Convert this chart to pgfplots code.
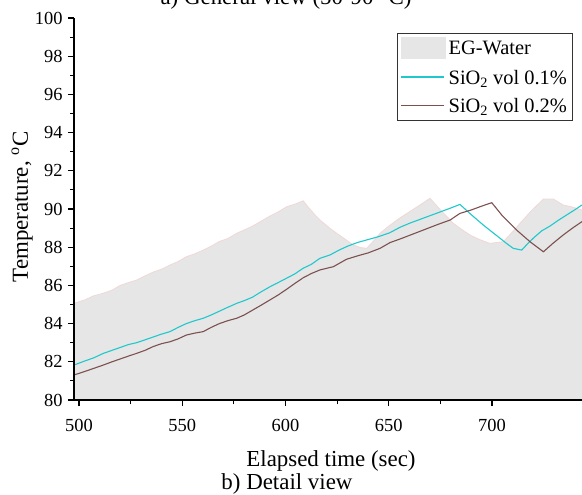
\documentclass[border=0pt]{standalone}
\usepackage{pgfplots}
\pgfplotsset{compat=1.18}
\usepackage{pgfplotstable}
\usepackage{fontspec}
\setmainfont{Liberation Serif}
\definecolor{egfill}{RGB}{230,230,230}
\definecolor{egedge}{RGB}{242,215,215}
\definecolor{cyanline}{RGB}{32,200,205}
\definecolor{brownline}{RGB}{125,80,80}
\newcommand{\labfont}{\fontsize{23}{27}\selectfont}
\newcommand{\tickfont}{\fontsize{18.5}{22}\selectfont}
\newcommand{\legfont}{\fontsize{20.5}{24}\selectfont}
\pgfplotsset{
  cyanleg/.style={legend image code/.code={\draw[cyanline, line width=1.6bp] (0bp,1bp) -- (43bp,1bp);}},
  brownleg/.style={legend image code/.code={\draw[brownline, line width=1.5bp] (0bp,1bp) -- (43bp,1bp);}},
  myarealeg/.style={legend image code/.code={\fill[egfill] (0bp,-11bp) rectangle (45bp,11bp);}},
}

\pgfplotstableread{
x y
497.6 85.06
503 85.25
507 85.45
511.8 85.59
516 85.75
520 86.0
524 86.15
527.9 86.28
532 86.5
536 86.7
540 86.85
544.1 87.07
548 87.25
552 87.5
556 87.65
560.2 87.85
564 88.05
568 88.3
572 88.45
576.4 88.73
580 88.9
584 89.1
588 89.35
592.5 89.63
596.5 89.85
600.6 90.12
604.5 90.25
608.6 90.43
611 90.1
614.3 89.69
617 89.4
621.5 88.99
624.8 88.73
628.5 88.45
632.8 88.12
636.5 87.98
639.3 87.94
642 88.25
646 88.75
650 89.1
655 89.5
660 89.85
665 90.2
670 90.56
675.5 89.9
681.3 89.25
685 88.95
689.3 88.64
694 88.4
699 88.2
705.5 88.29
709.5 88.75
713.6 89.25
719 89.9
724.9 90.52
729.7 90.52
734.5 90.21
739 90.1
743.6 89.95
}\egwater

\pgfplotstableread{
x y
497.6 81.83
503 82.05
507 82.2
511.8 82.44
516 82.6
520 82.75
523.9 82.9
527.9 83.0
532 83.15
536 83.3
540 83.45
544.1 83.58
548 83.8
552 84.0
556 84.15
560.2 84.28
564 84.45
568 84.65
572 84.85
576.4 85.06
580 85.2
584 85.38
588 85.65
592.5 85.93
596.5 86.15
600.6 86.38
604.5 86.6
608.6 86.9
612.5 87.1
616.7 87.42
621.5 87.59
626 87.85
630 88.05
635 88.25
640 88.4
645 88.55
650.6 88.76
655.4 89.04
660 89.25
665 89.45
670 89.65
675 89.85
680 90.05
684.5 90.24
690 89.7
695.8 89.16
700 88.8
703.9 88.47
707 88.2
710.3 87.94
714.4 87.85
717 88.15
720 88.47
724 88.85
728 89.1
732 89.4
736.2 89.69
740 89.95
743.6 90.21
}\sioa

\pgfplotstableread{
x y
497.6 81.31
503 81.5
507 81.65
511.8 81.83
516 82.0
520 82.15
524 82.3
527.9 82.44
532 82.6
536 82.8
540 82.95
544.1 83.05
548 83.2
552 83.4
556 83.5
560.2 83.58
564 83.8
568 84.0
572 84.15
576.4 84.28
580 84.45
584 84.7
588 84.95
592.5 85.24
596.5 85.5
600.6 85.8
604.5 86.1
608.6 86.4
612.5 86.62
616.7 86.81
623.2 86.98
629.6 87.37
635 87.55
640 87.7
645.8 87.94
650.6 88.24
656 88.45
662 88.7
668 88.95
674 89.2
679.7 89.42
684.5 89.77
690 89.95
695 90.15
699.9 90.33
705 89.65
711.9 88.9
718.4 88.29
724.9 87.76
729.5 88.2
734.5 88.64
739 89.0
743.6 89.34
}\siob

\begin{document}
\begin{tikzpicture}
\begin{axis}[
  scale only axis,
  width=508bp, height=382bp,
  xmin=497.6, xmax=743.6,
  ymin=80, ymax=100,
  axis x line*=bottom, axis y line*=left,
  x axis line style={-}, y axis line style={-},
  axis line style={line width=1.3bp, black},
  axis on top,
  xtick={500,550,600,650,700},
  ytick={80,82,...,100},
  minor x tick num=1, minor y tick num=1,
  tick align=outside,
  major tick length=6bp, minor tick length=4bp,
  tick style={line width=1.1bp, black},
  ticklabel style={font=\tickfont},
  /pgf/number format/assume math mode=true,
  /pgf/number format/1000 sep={},
  xticklabel style={yshift=-10bp},
  yticklabel style={xshift=-2bp},
  legend cell align=left,
  legend style={at={(axis description cs:0.6358,0.9607)}, anchor=north west,
    draw=black!80, line width=0.8bp, font=\legfont,
    inner xsep=3bp, inner ysep=4bp, row sep=8bp,
    nodes={inner sep=2.5bp}},
]
\coordinate (O) at (rel axis cs:0,0);
\addplot[draw=none, fill=egfill, myarealeg]
  table[x=x,y=y] {\egwater} \closedcycle;
\addlegendentry{EG-Water}
\addplot[forget plot, egedge, line width=0.8bp] table[x=x,y=y] {\egwater};
\addplot[cyanline, line width=1.1bp, cyanleg]
  table[x=x,y=y] {\sioa};
\addlegendentry{SiO\textsubscript{2} vol 0.1\%}
\addplot[brownline, line width=1.1bp, brownleg]
  table[x=x,y=y] {\siob};
\addlegendentry{SiO\textsubscript{2} vol 0.2\%}
\end{axis}
\node[anchor=base, font=\labfont] at ([shift={(212bp,395bp)}]O) {a) General view (50-90 °C)};
\node[anchor=base, font=\labfont] at ([shift={(257bp,-66bp)}]O) {Elapsed time (sec)};
\node[anchor=base, font=\labfont] at ([shift={(213bp,-89bp)}]O) {b) Detail view};
\node[anchor=base, rotate=90, font=\labfont] at ([shift={(-46bp,193bp)}]O) {Temperature, \textsuperscript{o}C};
\pgfresetboundingbox
\path[use as bounding box] (O) ++(-74bp,-95bp) rectangle ++(582bp,495bp);
\end{tikzpicture}
\end{document}
